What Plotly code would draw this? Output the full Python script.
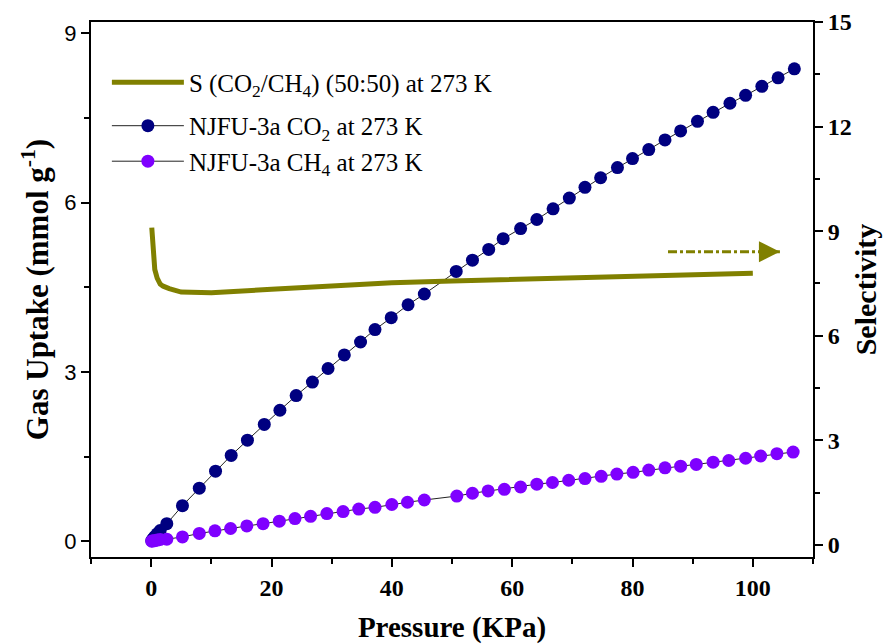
import plotly.graph_objects as go

# ---------------- data ----------------
co2_p = [0.1, 0.3, 0.6, 1.0, 1.5, 2.6, 5.2, 8.0, 10.7, 13.3, 16.0, 18.8, 21.4, 24.1, 26.8,
         29.4, 32.1, 34.8, 37.2, 39.9, 42.7, 45.4, 50.7, 53.4, 56.1, 58.5, 61.4, 64.1,
         66.8, 69.5, 72.1, 74.7, 77.5, 80.0, 82.7, 85.4, 88.0, 90.8, 93.4, 96.2, 98.8,
         101.5, 104.2, 106.9]
co2_q = [0.01, 0.04, 0.08, 0.13, 0.19, 0.31, 0.63, 0.94, 1.24, 1.52, 1.79, 2.07, 2.32, 2.58, 2.82,
         3.06, 3.30, 3.53, 3.75, 3.96, 4.19, 4.38, 4.78, 4.98, 5.17, 5.36, 5.54, 5.70,
         5.89, 6.08, 6.27, 6.44, 6.62, 6.78, 6.94, 7.11, 7.27, 7.44, 7.60, 7.76, 7.90,
         8.06, 8.21, 8.37]

ch4_p = [0.1, 0.3, 0.6, 1.0, 1.5, 2.6, 5.2, 8.0, 10.6, 13.2, 15.9, 18.6, 21.3, 23.9, 26.5,
         29.2, 31.9, 34.5, 37.2, 40.0, 42.6, 45.4, 50.8, 53.4, 56.0, 58.7, 61.4, 64.1,
         66.7, 69.4, 72.1, 74.8, 77.4, 80.1, 82.7, 85.4, 88.0, 90.6, 93.4, 96.0, 98.8,
         101.3, 104.0, 106.7]
ch4_q = [0.00, 0.01, 0.01, 0.02, 0.03, 0.035, 0.076, 0.137, 0.183, 0.225, 0.27, 0.31, 0.355, 0.40, 0.44,
         0.49, 0.525, 0.57, 0.60, 0.65, 0.69, 0.73, 0.80, 0.85, 0.89, 0.92, 0.96, 1.01,
         1.04, 1.08, 1.11, 1.15, 1.19, 1.22, 1.26, 1.30, 1.33, 1.36, 1.40, 1.43, 1.47,
         1.51, 1.55, 1.58]

sel_p = [0.1, 0.2, 0.4, 0.6, 1.0, 1.5, 2.0, 3.0, 5.0, 8.0, 10.0, 20.0, 30.0, 40.0, 50.0,
         60.0, 70.0, 80.0, 90.0, 100.0]
sel_s = [9.1, 8.7, 8.2, 7.9, 7.65, 7.48, 7.42, 7.35, 7.25, 7.22, 7.23, 7.33, 7.44, 7.52, 7.57,
         7.62, 7.67, 7.71, 7.75, 7.79]

arrow_x = [85.9, 104.5]
arrow_y = [8.41, 8.41]

x_ticks = [0, 20, 40, 60, 80, 100]
y_ticks = [0, 3, 6, 9]
y2_ticks = [0, 3, 6, 9, 12, 15]

OLIVE = "#808000"
NAVY = "#000080"
VIOLET = "#7F00FF"
SERIF = "Liberation Serif"

fig = go.Figure()

fig.add_trace(go.Scatter(
    x=sel_p, y=sel_s, yaxis="y2", mode="lines",
    line=dict(color=OLIVE, width=5),
    legendgroup="s",
    name="S (CO<sub>2</sub>/CH<sub>4</sub>) (50:50) at 273 K"))

fig.add_trace(go.Scatter(
    x=co2_p, y=co2_q, mode="lines+markers",
    line=dict(color="#222222", width=1),
    marker=dict(color=NAVY, size=13),
    legendgroup="iso",
    name="NJFU-3a CO<sub>2</sub> at 273 K"))

fig.add_trace(go.Scatter(
    x=ch4_p, y=ch4_q, mode="lines+markers",
    line=dict(color="#222222", width=1),
    marker=dict(color=VIOLET, size=13),
    legendgroup="iso",
    name="NJFU-3a CH<sub>4</sub> at 273 K"))

# dash-dot arrow pointing to right axis
fig.add_trace(go.Scatter(
    x=arrow_x, y=arrow_y, yaxis="y2", mode="lines",
    line=dict(color=OLIVE, width=3, dash="dashdot"),
    showlegend=False, hoverinfo="skip"))
fig.add_annotation(
    x=arrow_x[1], y=arrow_y[1], xref="x", yref="y2",
    ax=-12, ay=0, showarrow=True, arrowhead=2, arrowsize=1.4,
    arrowwidth=3, arrowcolor=OLIVE, text="")

axis_common = dict(
    showline=True, linecolor="black", linewidth=2,
    ticks="outside", ticklen=8, tickwidth=2, tickcolor="black",
    showgrid=False, zeroline=False, automargin=False,
)

fig.update_layout(
    width=885, height=644,
    margin=dict(l=91, r=72, t=22, b=87),
    paper_bgcolor="white", plot_bgcolor="white",
    font=dict(family=SERIF, color="black"),
    xaxis=dict(
        **axis_common, range=[-10, 110], tickvals=x_ticks, mirror=True,
        minor=dict(dtick=10, ticks="outside", ticklen=5, tickwidth=2, tickcolor="black"),
        tickfont=dict(family=SERIF, size=24, color="black", weight=700),
        title=dict(text="<b>Pressure (KPa)</b>", font=dict(family=SERIF, size=29), standoff=20),
    ),
    yaxis=dict(
        **axis_common, range=[-0.28, 9.2], tickvals=y_ticks,
        minor=dict(dtick=1.5, ticks="outside", ticklen=5, tickwidth=2, tickcolor="black"),
        tickfont=dict(family="Liberation Sans", size=22, color="black"),
        title=dict(text="<b>Gas Uptake (mmol g<sup>-1</sup>)</b>", font=dict(family=SERIF, size=31), standoff=6),
    ),
    yaxis2=dict(
        **axis_common, range=[-0.35, 15], tickvals=y2_ticks,
        overlaying="y", side="right",
        minor=dict(dtick=1.5, ticks="outside", ticklen=5, tickwidth=2, tickcolor="black"),
        tickfont=dict(family=SERIF, size=24, color="black", weight=700),
        title=dict(text="<b>Selectivity</b>", font=dict(family=SERIF, size=30), standoff=4),
    ),
    legend=dict(
        x=0.022, y=0.93, xanchor="left", yanchor="top",
        bgcolor="rgba(0,0,0,0)", font=dict(family=SERIF, size=25, color="black"),
        itemwidth=72, tracegroupgap=8, traceorder="grouped",
    ),
    showlegend=True,
)

fig.write_html("out.html")
